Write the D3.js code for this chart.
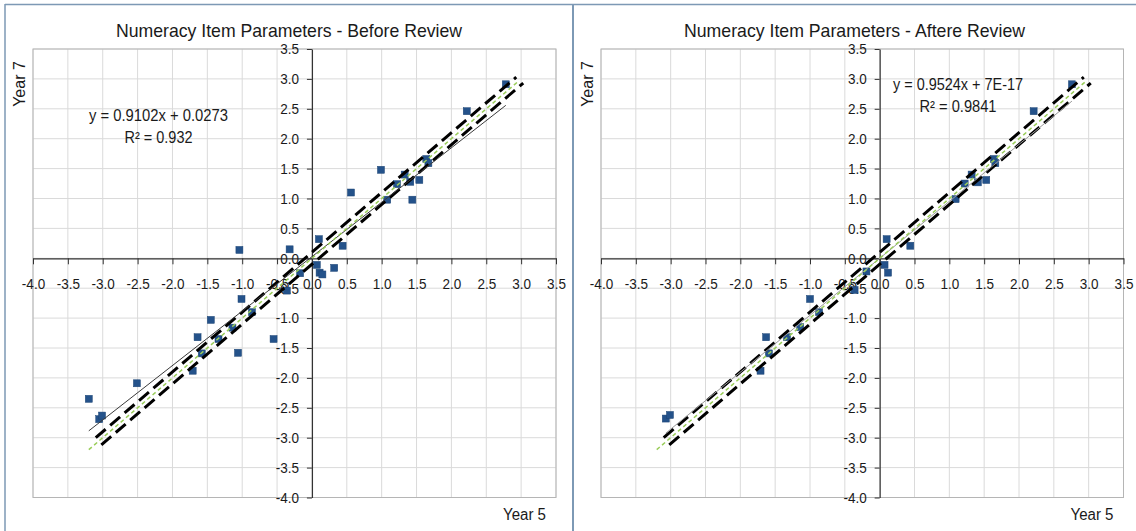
<!DOCTYPE html>
<html>
<head>
<meta charset="utf-8">
<script src="https://cdn.jsdelivr.net/npm/d3@7"></script>
<style>
  html, body { margin: 0; padding: 0; background: #fff; }
  svg { display: block; }
  text { font-family: 'Liberation Sans', Arial, sans-serif; fill: #1a1a1a; }
</style>
</head>
<body>
<svg id="chart" width="1136" height="531"></svg>
<script>
// ---- data ----
const panelTitles = ["Numeracy Item Parameters - Before Review", "Numeracy Item Parameters - Aftere Review"];
const xTitle = "Year 5";
const yTitle = "Year 7";

const axisTicks  = [-4.0, -3.5, -3.0, -2.5, -2.0, -1.5, -1.0, -0.5, 0.0, 0.5, 1.0, 1.5, 2.0, 2.5, 3.0, 3.5];
const tickLabels = ["-4.0", "-3.5", "-3.0", "-2.5", "-2.0", "-1.5", "-1.0", "-0.5", "0.0", "0.5", "1.0", "1.5", "2.0", "2.5", "3.0", "3.5"];

// item difficulties, Year 5 (x) vs Year 7 (y), before review
const beforeX = [-3.20, -3.05, -3.01, -2.51, -1.71, -1.64, -1.58, -1.45, -1.34, -1.14, -1.06, -1.01, -0.86, -0.55,
                 -1.04, -0.32, -0.36, -0.17, 0.10, 0.07, 0.11, 0.15, 0.32, 0.44, 0.56, 0.99, 1.08, 1.22,
                 1.33, 1.41, 1.44, 1.54, 1.64, 1.67, 2.22, 2.78];
const beforeY = [-2.35, -2.69, -2.63, -2.09, -1.88, -1.32, -1.59, -1.03, -1.35, -1.16, -1.58, -0.68, -0.90, -1.35,
                 0.14, 0.15, -0.54, -0.25, 0.32, -0.11, -0.24, -0.27, -0.16, 0.21, 1.10, 1.48, 0.98, 1.24,
                 1.40, 1.28, 0.98, 1.31, 1.66, 1.59, 2.46, 2.91];

// after review
const afterX = [-3.07, -3.01, -1.71, -1.63, -1.59, -1.33, -1.14, -1.00, -0.87, -0.36, -0.19, 0.10, 0.07, 0.12,
                0.44, 1.09, 1.22, 1.32, 1.41, 1.53, 1.64, 1.66, 2.21, 2.76];
const afterY = [-2.68, -2.62, -1.88, -1.32, -1.59, -1.32, -1.15, -0.68, -0.90, -0.53, -0.22, 0.32, -0.11, -0.24,
                0.21, 0.99, 1.25, 1.40, 1.27, 1.31, 1.66, 1.59, 2.46, 2.91];

// linear trend lines
const trendSlopes     = [0.9102, 0.9524];
const trendIntercepts = [0.0273, 7e-17];
const trendEquations  = ["y = 0.9102x + 0.0273", "y = 0.9524x + 7E-17"];
const trendR2         = ["R\u00B2 = 0.932", "R\u00B2 = 0.9841"];

// identity line y = x and the ±0.1 band around it
const identityRange = [-3.2, 2.97];
const bandOffset    = 0.1;
const upperRange    = [-3.1, 2.93];
const lowerRange    = [-3.02, 3.03];

// ---- layout ----
const svg = d3.select("#chart");
const frameColor = "#7d99b5";

const panels = [
  { left: 33,  right: 556,    top: 49, bottom: 497.5, xs: beforeX, ys: beforeY,
    titleX: 289,   titleLen: 346, eqX: 158.5, eqY: 121, eqLen: 139, r2Len: 68, r2Y: 143,
    yTitleX: 25,  trendColor: "#3a3a3a" },
  { left: 601, right: 1123.5, top: 49, bottom: 497.5, xs: afterX, ys: afterY,
    titleX: 854.5, titleLen: 341, eqX: 958, eqY: 90, eqLen: 130, r2Len: 77, r2Y: 112,
    yTitleX: 593, trendColor: "#9a9a9a" }
];

// panel frames
svg.append("line").attr("x1", 5).attr("x2", 5).attr("y1", 4).attr("y2", 531)
  .attr("stroke", frameColor).attr("stroke-width", 1.5);
svg.append("line").attr("x1", 5).attr("x2", 1136).attr("y1", 4.5).attr("y2", 4.5)
  .attr("stroke", frameColor).attr("stroke-width", 1.5);
svg.append("line").attr("x1", 573).attr("x2", 573).attr("y1", 4).attr("y2", 531)
  .attr("stroke", frameColor).attr("stroke-width", 2);

panels.forEach((p, i) => {
  const g = svg.append("g");
  const x = d3.scaleLinear().domain([-4, 3.5]).range([p.left, p.right]);
  const y = d3.scaleLinear().domain([-4, 3.5]).range([p.bottom, p.top]);

  // gridlines
  g.append("g").selectAll("line.v").data(axisTicks).join("line")
    .attr("x1", d => x(d)).attr("x2", d => x(d)).attr("y1", p.top).attr("y2", p.bottom)
    .attr("stroke", "#dadada").attr("stroke-width", 1);
  g.append("g").selectAll("line.h").data(axisTicks).join("line")
    .attr("x1", p.left).attr("x2", p.right).attr("y1", d => y(d)).attr("y2", d => y(d))
    .attr("stroke", "#dadada").attr("stroke-width", 1);

  // plot-area border
  g.append("rect").attr("x", p.left).attr("y", p.top)
    .attr("width", p.right - p.left).attr("height", p.bottom - p.top)
    .attr("fill", "none").attr("stroke", "#b5b5b5").attr("stroke-width", 1);

  // axes crossing at the origin
  const fmt = d => tickLabels[axisTicks.indexOf(d)];
  const xAxis = g.append("g").attr("transform", `translate(0,${y(0)})`)
    .call(d3.axisBottom(x).tickValues(axisTicks).tickFormat(fmt).tickSize(6).tickSizeOuter(0).tickPadding(14));
  const yAxis = g.append("g").attr("transform", `translate(${x(0)},0)`)
    .call(d3.axisLeft(y).tickValues(axisTicks).tickFormat(fmt).tickSize(5).tickSizeOuter(0).tickPadding(8));
  [xAxis, yAxis].forEach(a => {
    a.select(".domain").attr("stroke", "#333").attr("stroke-width", 1.2);
    a.selectAll(".tick line").attr("stroke", "#333");
    a.selectAll(".tick text").attr("font-size", 15).attr("fill", "#1a1a1a")
      .attr("font-family", "'Liberation Sans', Arial, sans-serif")
      .each(function () {
        // slightly condensed lettering
        const w = this.getComputedTextLength();
        d3.select(this).attr("textLength", w * 0.9).attr("lengthAdjust", "spacingAndGlyphs");
      });
  });

  // data markers
  const pts = p.xs.map((v, k) => [v, p.ys[k]]);
  g.append("g").selectAll("rect").data(pts).join("rect")
    .attr("x", d => x(d[0]) - 3.5).attr("y", d => y(d[1]) - 3.5)
    .attr("width", 7).attr("height", 7)
    .attr("fill", "#24528a").attr("stroke", "#1c4475").attr("stroke-width", 0.5);

  const line = d3.line().x(d => x(d[0])).y(d => y(d[1]));

  // ±0.1 band
  g.append("path")
    .datum([[upperRange[0], upperRange[0] + bandOffset], [upperRange[1], upperRange[1] + bandOffset]])
    .attr("d", line).attr("fill", "none").attr("stroke", "#000")
    .attr("stroke-width", 3).attr("stroke-dasharray", "13,6");
  g.append("path")
    .datum([[lowerRange[0], lowerRange[0] - bandOffset], [lowerRange[1], lowerRange[1] - bandOffset]])
    .attr("d", line).attr("fill", "none").attr("stroke", "#000")
    .attr("stroke-width", 3).attr("stroke-dasharray", "13,6");

  // trend line over the data range
  const ext = d3.extent(p.xs);
  g.append("path")
    .datum(ext.map(v => [v, trendSlopes[i] * v + trendIntercepts[i]]))
    .attr("d", line).attr("fill", "none").attr("stroke", p.trendColor).attr("stroke-width", 1);

  // identity line
  g.append("path")
    .datum([[identityRange[0], identityRange[0]], [identityRange[1], identityRange[1]]])
    .attr("d", line).attr("fill", "none").attr("stroke", "#9acd5a")
    .attr("stroke-width", 1.5).attr("stroke-dasharray", "4,3");

  // titles
  g.append("text").attr("x", p.titleX).attr("y", 37).attr("text-anchor", "middle")
    .attr("font-size", 19).attr("textLength", p.titleLen).attr("lengthAdjust", "spacingAndGlyphs")
    .text(panelTitles[i]);

  g.append("text").attr("x", p.eqX).attr("y", p.eqY).attr("text-anchor", "middle")
    .attr("font-size", 16).attr("textLength", p.eqLen).attr("lengthAdjust", "spacingAndGlyphs")
    .text(trendEquations[i]);
  g.append("text").attr("x", p.eqX).attr("y", p.r2Y).attr("text-anchor", "middle")
    .attr("font-size", 16).attr("textLength", p.r2Len).attr("lengthAdjust", "spacingAndGlyphs")
    .text(trendR2[i]);

  g.append("text").attr("transform", `translate(${p.yTitleX},84) rotate(-90)`)
    .attr("text-anchor", "middle").attr("font-size", 16)
    .text(yTitle);
  g.append("text").attr("x", p.right - 10).attr("y", 520).attr("text-anchor", "end")
    .attr("font-size", 16).attr("textLength", 43).attr("lengthAdjust", "spacingAndGlyphs")
    .text(xTitle);
});
</script>
</body>
</html>
